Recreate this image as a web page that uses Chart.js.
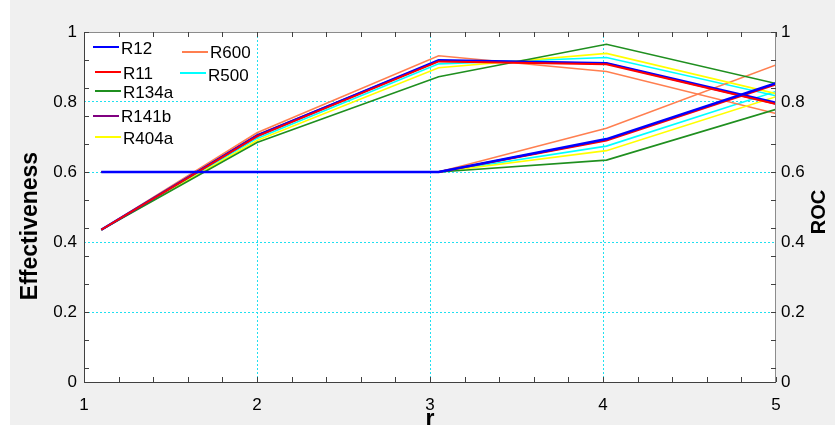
<!DOCTYPE html>
<html>
<head>
  <title>Effectiveness and ROC vs r</title>
  <script src="https://cdn.jsdelivr.net/npm/chart.js"></script>
  <style>
    body { margin: 0; background: #ffffff; }
    /* grey figure background, white strip on the left like the original */
    .figure {
      position: absolute; left: 10px; top: 0; width: 825px; height: 425px;
      background: #f0f0f0;
    }
    .wrap { position: absolute; left: 0; top: 0; width: 835px; height: 425px; }
  </style>
</head>
<body>
  <div class="figure"></div>
  <div class="wrap"><canvas id="chart" width="835" height="425"></canvas></div>

  <script>
    // x positions of the computed points
    const xEff = [1.1, 2, 3.05, 4.02, 5];
    const xRoc = [1.1, 3.05, 4.02, 5];

    const refrigerants = ['R12', 'R11', 'R134a', 'R141b', 'R404a', 'R600', 'R500'];
    const colors = ['#0000ff', '#ff0000', '#1f8f1f', '#800080', '#ffff00', '#ff7f50', '#00ffff'];

    // Effectiveness (left axis)
    const effR12   = [0.435, 0.703, 0.919, 0.911, 0.798];
    const effR11   = [0.435, 0.702, 0.916, 0.908, 0.794];
    const effR134a = [0.435, 0.684, 0.872, 0.965, 0.853];
    const effR141b = [0.435, 0.705, 0.918, 0.910, 0.795];
    const effR404a = [0.435, 0.690, 0.898, 0.939, 0.824];
    const effR600  = [0.435, 0.712, 0.932, 0.887, 0.767];
    const effR500  = [0.435, 0.696, 0.909, 0.927, 0.818];

    // ROC (right axis)
    const rocR12   = [0.6, 0.6, 0.694, 0.854];
    const rocR11   = [0.6, 0.6, 0.690, 0.850];
    const rocR134a = [0.6, 0.6, 0.634, 0.779];
    const rocR141b = [0.6, 0.6, 0.692, 0.852];
    const rocR404a = [0.6, 0.6, 0.661, 0.815];
    const rocR600  = [0.6, 0.6, 0.725, 0.906];
    const rocR500  = [0.6, 0.6, 0.674, 0.830];

    const yTicks = [0, 0.2, 0.4, 0.6, 0.8, 1];
    const xTicks = [1, 2, 3, 4, 5];

    const effSeries = [effR12, effR11, effR134a, effR141b, effR404a, effR600, effR500];
    const rocSeries = [rocR12, rocR11, rocR134a, rocR141b, rocR404a, rocR600, rocR500];

    const widths = [2.5, 2, 1.6, 2, 1.6, 1.6, 1.6];
    // lower = drawn on top
    const effOrder = [1, 0, 3, 4, 3, 3, 3];
    const rocOrder = [0, 1, 3, 4, 3, 3, 3];

    const datasets = [];
    refrigerants.forEach((name, i) => {
      datasets.push({
        label: name,
        data: effSeries[i].map((v, k) => ({ x: xEff[k], y: v })),
        borderColor: colors[i],
        borderWidth: widths[i],
        yAxisID: 'y',
        order: effOrder[i]
      });
      datasets.push({
        label: name + ' ROC',
        data: rocSeries[i].map((v, k) => ({ x: xRoc[k], y: v })),
        borderColor: colors[i],
        borderWidth: widths[i],
        yAxisID: 'y2',
        order: rocOrder[i]
      });
    });

    const FONT = '"Liberation Sans", Arial, sans-serif';

    // white plot background, minor ticks, border, axis titles and legend (MATLAB look)
    const matlabPlugin = {
      id: 'matlabPlugin',
      beforeDraw(chart) {
        const { ctx, chartArea: a } = chart;
        ctx.save();
        ctx.fillStyle = '#ffffff';
        ctx.fillRect(a.left, a.top, a.right - a.left, a.bottom - a.top);
        ctx.restore();
      },
      afterDraw(chart) {
        const { ctx, chartArea: a, scales } = chart;
        ctx.save();
        // border
        ctx.strokeStyle = '#8c8c8c';
        ctx.lineWidth = 1;
        ctx.strokeRect(a.left + 0.5, a.top + 0.5, a.right - a.left - 1, a.bottom - a.top);
        ctx.strokeStyle = '#404040';
        ctx.beginPath();
        ctx.moveTo(a.left, a.bottom + 0.5); ctx.lineTo(a.right, a.bottom + 0.5);
        ctx.moveTo(a.left + 0.5, a.top); ctx.lineTo(a.left + 0.5, a.bottom);
        ctx.stroke();

        // minor ticks
        ctx.beginPath();
        for (let v = 1; v <= 5.001; v += 0.2) {
          const px = Math.round(scales.x.getPixelForValue(v)) + 0.5;
          ctx.moveTo(px, a.bottom); ctx.lineTo(px, a.bottom - 5);
          ctx.moveTo(px, a.top); ctx.lineTo(px, a.top + 5);
        }
        for (let v = 0; v <= 1.001; v += 0.08) {
          const py = Math.round(scales.y.getPixelForValue(1 - v)) + 0.5;
          ctx.moveTo(a.left, py); ctx.lineTo(a.left + 5, py);
          ctx.moveTo(a.right, py); ctx.lineTo(a.right - 5, py);
        }
        ctx.stroke();
        ctx.restore();

        // axis titles
        const yMid = (a.top + a.bottom) / 2;
        ctx.save();
        ctx.fillStyle = '#000000';
        ctx.font = 'bold 23px ' + FONT;
        ctx.textAlign = 'center';
        ctx.textBaseline = 'middle';
        ctx.translate(31, 226);
        ctx.rotate(-Math.PI / 2);
        ctx.fillText('Effectiveness', 0, 0);
        ctx.restore();

        ctx.save();
        ctx.fillStyle = '#000000';
        ctx.font = 'bold 20px ' + FONT;
        ctx.textAlign = 'center';
        ctx.textBaseline = 'middle';
        ctx.translate(819, yMid + 5);
        ctx.rotate(-Math.PI / 2);
        ctx.fillText('ROC', 0, 0);
        ctx.restore();

        // legend
        const legendPos = [
          [93, 47, 121, 49], [95, 72, 123, 74], [95, 91, 123, 93], [93, 116, 121, 117],
          [95, 137, 123, 139], [182, 52, 210, 53], [180, 73, 208, 76]
        ];
        ctx.save();
        ctx.font = '17px ' + FONT;
        ctx.textBaseline = 'middle';
        ctx.textAlign = 'left';
        refrigerants.forEach((name, i) => {
          const [lx, ly, tx, ty] = legendPos[i];
          ctx.strokeStyle = colors[i];
          ctx.lineWidth = 2;
          ctx.beginPath();
          ctx.moveTo(lx, ly); ctx.lineTo(lx + 26, ly);
          ctx.stroke();
          ctx.fillStyle = '#000000';
          ctx.fillText(name, tx, ty);
        });
        ctx.restore();
      }
    };

    const gridColor = (ctx) => {
      const v = ctx.tick.value;
      return (v > 0.01 && v < 0.99) || (v > 1.01 && v < 4.99) ? '#20e0f0' : 'rgba(0,0,0,0)';
    };
    const plainLabel = (v) => String(+v.toFixed(2));

    new Chart(document.getElementById('chart'), {
      type: 'line',
      data: { datasets },
      options: {
        responsive: false,
        animation: false,
        layout: { padding: { top: 32, left: 0, right: 0, bottom: 0 } },
        elements: { point: { radius: 0 }, line: { tension: 0 } },
        plugins: { legend: { display: false }, tooltip: { enabled: false } },
        scales: {
          x: {
            type: 'linear',
            min: 1, max: 5,
            afterBuildTicks: (s) => { s.ticks = xTicks.map(v => ({ value: v })); },
            afterFit: (s) => { s.height = 43; },
            grid: { color: gridColor, drawTicks: false, lineWidth: 1 },
            border: { display: false, dash: [2, 2] },
            ticks: { color: '#000', padding: 13, font: { family: FONT, size: 17 }, callback: plainLabel },
            title: {
              display: true, text: 'r', color: '#000',
              font: { family: FONT, size: 23, weight: 'bold' },
              padding: { top: 0, bottom: -8 }
            }
          },
          y: {
            position: 'left',
            min: 0, max: 1,
            afterBuildTicks: (s) => { s.ticks = yTicks.map(v => ({ value: v })); },
            afterFit: (s) => { s.width = 84; },
            grid: { color: gridColor, drawTicks: false, lineWidth: 1 },
            border: { display: false, dash: [2, 2] },
            ticks: { color: '#000', padding: 7, font: { family: FONT, size: 17 }, callback: plainLabel }
          },
          y2: {
            position: 'right',
            min: 0, max: 1,
            afterBuildTicks: (s) => { s.ticks = yTicks.map(v => ({ value: v })); },
            afterFit: (s) => { s.width = 59; },
            grid: { display: false, drawTicks: false },
            border: { display: false },
            ticks: { color: '#000', padding: 5, font: { family: FONT, size: 17 }, callback: plainLabel }
          }
        }
      },
      plugins: [matlabPlugin]
    });
  </script>
</body>
</html>
